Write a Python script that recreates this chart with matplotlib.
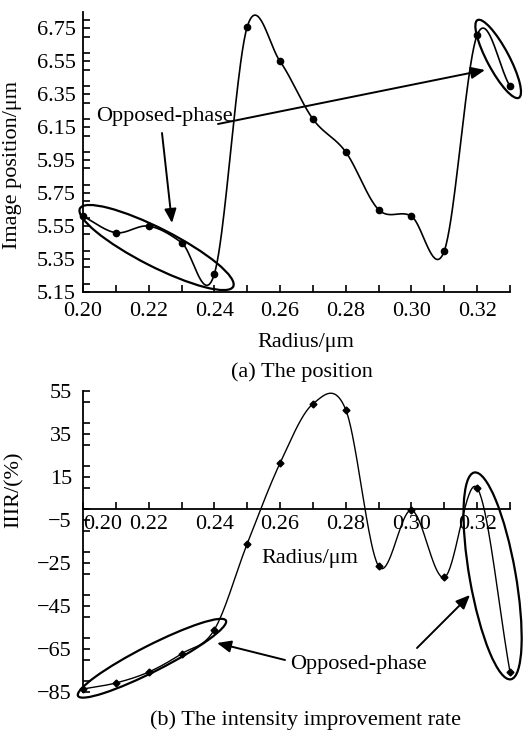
import numpy as np
import matplotlib
matplotlib.use("Agg")
import matplotlib.pyplot as plt
from matplotlib.patches import Ellipse
from matplotlib.ticker import FuncFormatter, MultipleLocator
from matplotlib.transforms import ScaledTranslation

# data
radius = [0.20, 0.21, 0.22, 0.23, 0.24, 0.25, 0.26, 0.27, 0.28, 0.29, 0.30, 0.31, 0.32, 0.33]
image_position = [5.61, 5.51, 5.55, 5.45, 5.26, 6.76, 6.55, 6.20, 6.00, 5.65, 5.61, 5.40, 6.71, 6.40]
iiir = [-83.6, -80.8, -75.7, -67.2, -56.0, -16.0, 21.5, 49.0, 46.3, -26.5, -0.5, -31.7, 9.9, -75.7]

top_xticks = [0.20, 0.22, 0.24, 0.26, 0.28, 0.30, 0.32]
top_yticks = [5.15, 5.35, 5.55, 5.75, 5.95, 6.15, 6.35, 6.55, 6.75]
bottom_yticks = [-85, -65, -45, -25, -5, 15, 35, 55]

plt.rcParams['font.family'] = ['Liberation Serif', 'DejaVu Serif']
plt.rcParams['mathtext.fontset'] = 'stix'

W, H = 523, 733
fig = plt.figure(figsize=(W / 100, H / 100), dpi=100)


def fpos(x, y):
    """pixel position (from top-left) -> figure fraction"""
    return x / W, 1 - y / H


def smooth(x, y, n=40):
    """Catmull-Rom curve through the points (like a smoothed line)"""
    x = np.asarray(x, float)
    y = np.asarray(y, float)
    px = np.concatenate([[2 * x[0] - x[1]], x, [2 * x[-1] - x[-2]]])
    py = np.concatenate([[2 * y[0] - y[1]], y, [2 * y[-1] - y[-2]]])
    t = np.linspace(0, 1, n, endpoint=False)
    h00 = 2 * t**3 - 3 * t**2 + 1
    h10 = t**3 - 2 * t**2 + t
    h01 = -2 * t**3 + 3 * t**2
    h11 = t**3 - t**2
    xs, ys = [], []
    for i in range(1, len(px) - 2):
        for p, out in ((px, xs), (py, ys)):
            m1 = (p[i + 1] - p[i - 1]) / 2
            m2 = (p[i + 2] - p[i]) / 2
            out.append(h00 * p[i] + h10 * m1 + h01 * p[i + 1] + h11 * m2)
    xs.append([x[-1]])
    ys.append([y[-1]])
    return np.concatenate(xs), np.concatenate(ys)


def ring(ax, cx, cy, w, h, angle):
    """ellipse of w x h pixels centred on a data point"""
    tr = fig.dpi_scale_trans + ScaledTranslation(cx, cy, ax.transData)
    ax.add_patch(Ellipse((0, 0), w / 100, h / 100, angle=angle, transform=tr,
                         fill=False, lw=1.6, color='black', clip_on=False))


def arrow(x0, y0, x1, y1):
    fig.add_artist(matplotlib.patches.FancyArrowPatch(
        fpos(x0, y0), fpos(x1, y1), transform=fig.transFigure,
        arrowstyle='-|>,head_length=0.7,head_width=0.3', lw=1.4, color='black',
        mutation_scale=12, shrinkA=0, shrinkB=0))


# ---- (a) image position ----
ax1 = fig.add_axes([83 / W, (H - 292) / H, 427 / W, 280 / H])
sx, sy = smooth(radius, image_position)
ax1.plot(sx, sy, color='black', lw=1.2, clip_on=False)
ax1.plot(radius, image_position, 'o', color='black', ms=4.5, clip_on=False)
ax1.set_xlim(0.20, 0.33)
ax1.set_ylim(5.15, 6.85)
ax1.set_xticks(top_xticks)
ax1.xaxis.set_minor_locator(MultipleLocator(0.01))
ax1.set_yticks(top_yticks)
ax1.yaxis.set_minor_locator(MultipleLocator(0.1))
ax1.xaxis.set_major_formatter(FuncFormatter(lambda v, p: f"{v:.2f}"))
ax1.yaxis.set_major_formatter(FuncFormatter(lambda v, p: f"{v:.2f}"))
for s in ('top', 'right'):
    ax1.spines[s].set_visible(False)
for s in ('left', 'bottom'):
    ax1.spines[s].set_linewidth(1.3)
ax1.tick_params(which='both', direction='in', length=5, width=1.2, labelsize=16)
ax1.tick_params(axis='x', which='both', pad=7)
ax1.tick_params(axis='y', which='both', pad=5)

ring(ax1, 0.2224, 5.42, 172, 38, -27)
ring(ax1, 0.3264, 6.565, 88, 22, -62)
fig.text(*fpos(164, 117), "Opposed-phase", fontsize=16, ha='center', va='center')
arrow(218, 124, 485, 70)
arrow(162, 133, 172, 223)

fig.text(*fpos(306, 342), "Radius/μm", fontsize=16, ha='center', va='center')
fig.text(*fpos(302, 372), "(a) The position", fontsize=16, ha='center', va='center')
fig.text(*fpos(13, 165), "Image position/μm", fontsize=16, ha='center', va='center',
         rotation=90)

# ---- (b) intensity improvement rate ----
ax2 = fig.add_axes([83 / W, (H - 692) / H, 427 / W, 301 / H])
sx, sy = smooth(radius, iiir)
ax2.plot(sx, sy, color='black', lw=1.0, clip_on=False)
ax2.plot(radius, iiir, 'D', color='black', ms=3.5, clip_on=False)
ax2.set_xlim(0.20, 0.33)
ax2.set_ylim(-85, 55)
ax2.set_xticks(top_xticks)
ax2.xaxis.set_minor_locator(MultipleLocator(0.01))
ax2.set_yticks(bottom_yticks)
ax2.yaxis.set_minor_locator(MultipleLocator(10))
ax2.xaxis.set_major_formatter(FuncFormatter(lambda v, p: f"{v:.2f}"))
ax2.yaxis.set_major_formatter(FuncFormatter(lambda v, p: f"{v:.0f}".replace('-', '\u2212')))
for s in ('top', 'right'):
    ax2.spines[s].set_visible(False)
ax2.spines['bottom'].set_position(('data', 0))
for s in ('left', 'bottom'):
    ax2.spines[s].set_linewidth(1.3)
ax2.tick_params(which='both', direction='in', length=5, width=1.2, labelsize=16)
ax2.tick_params(axis='x', which='both', pad=4)
ax2.tick_params(axis='y', which='both', pad=8)
ax2.get_xticklabels()[0].set_horizontalalignment('left')

ring(ax2, 0.221, -69.3, 166, 26, 27)
ring(ax2, 0.3247, -31.0, 210, 46, -80)
fig.text(*fpos(358, 665), "Opposed-phase", fontsize=16, ha='center', va='center')
arrow(285, 660, 217, 643)
arrow(417, 648, 470, 595)

fig.text(*fpos(310, 558), "Radius/μm", fontsize=16, ha='center', va='center')
fig.text(*fpos(305, 720), "(b) The intensity improvement rate", fontsize=16,
         ha='center', va='center')
fig.text(*fpos(14, 490), "IIIR/(%)", fontsize=16, ha='center', va='center', rotation=90)

plt.savefig("out.png", dpi=100)
